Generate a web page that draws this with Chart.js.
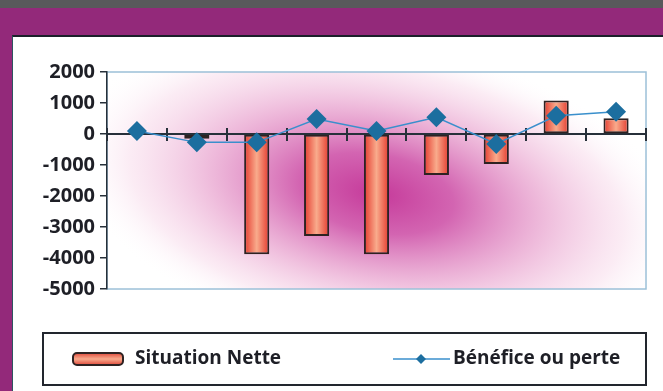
<!DOCTYPE html>
<html>
<head>
<meta charset="utf-8">
<script src="https://cdn.jsdelivr.net/npm/chart.js@4"></script>
<style>
  html, body { margin:0; padding:0; }
  body { width:663px; height:391px; background:#93297a; position:relative; overflow:hidden; }
  #topband { position:absolute; left:0; top:0; width:663px; height:8px; background:#58595b; }
  #panel { position:absolute; left:12px; top:35px; width:660px; height:400px; background:#fff;
           border-top:2px solid #1b1f2a; border-left:1px solid #2d5560; box-sizing:border-box; }
  #wrap { position:absolute; left:0; top:0; width:663px; height:391px; }
</style>
</head>
<body>
<div id="topband"></div>
<div id="panel"></div>
<div id="wrap"><canvas id="myChart"></canvas></div>
<script>
// données
const categories = ['1', '2', '3', '4', '5', '6', '7', '8', '9'];
const situationNette = [null, -150, -3880, -3290, -3880, -1320, -970, 1080, 510];
const beneficeOuPerte = [100, -270, -270, 480, 100, 540, -320, 590, 720];
const yMin = -5000;
const yMax = 2000;
const yStep = 1000;

const barPct = 0.42;
const txtFont = { family: 'Open Sans', size: 19, weight: 'bold' };
const tickFont = { family: 'Open Sans', size: 20, weight: 'bold' };
const axisColor = '#27303a';

// fond dégradé rose de la zone de tracé
const plotBack = {
    id: 'plotBack',
    beforeDraw(chart) {
        const { ctx, chartArea: a } = chart;
        ctx.save();
        ctx.fillStyle = '#fff';
        ctx.fillRect(a.left, a.top, a.width, a.height);
        ctx.beginPath();
        ctx.rect(a.left, a.top, a.width, a.height);
        ctx.clip();
        ctx.translate(a.left + a.width * 0.5, a.top + a.height * 0.56);
        ctx.rotate(0.18);
        ctx.scale(1, 0.5);
        const r = a.width * 0.58;
        const g = ctx.createRadialGradient(0, 0, 0, 0, 0, r);
        g.addColorStop(0, 'rgba(192,40,145,0.92)');
        g.addColorStop(0.25, 'rgba(200,62,158,0.8)');
        g.addColorStop(0.55, 'rgba(226,135,192,0.55)');
        g.addColorStop(0.8, 'rgba(244,200,224,0.35)');
        g.addColorStop(1, 'rgba(255,255,255,0)');
        ctx.fillStyle = g;
        ctx.fillRect(-r * 2, -r * 3, r * 4, r * 6);
        ctx.restore();
        ctx.save();
        ctx.strokeStyle = '#9cc0d8';
        ctx.lineWidth = 1.5;
        ctx.strokeRect(a.left, a.top, a.width, a.height);
        ctx.restore();
    }
};

// légende encadrée sous le graphique
const boxLegend = {
    id: 'boxLegend',
    afterDraw(chart) {
        const { ctx, chartArea: a } = chart;
        const bar = chart.data.datasets[0];
        const line = chart.data.datasets[1];
        const top = a.bottom + 44, h = 52, left = 43, right = a.right;
        const cy = top + h / 2;
        ctx.save();
        ctx.fillStyle = '#fff';
        ctx.fillRect(left, top, right - left, h);
        ctx.strokeStyle = '#22262e';
        ctx.lineWidth = 2;
        ctx.strokeRect(left, top, right - left, h);

        // pastille barre
        const g = ctx.createLinearGradient(0, cy - 6, 0, cy + 6);
        g.addColorStop(0, '#e04a3c');
        g.addColorStop(0.5, '#f8aa8c');
        g.addColorStop(1, '#e04a3c');
        ctx.fillStyle = g;
        ctx.strokeStyle = '#2e2222';
        ctx.lineWidth = 2;
        ctx.beginPath();
        ctx.roundRect(73, cy - 6, 50, 12, 4);
        ctx.fill();
        ctx.stroke();

        ctx.font = `${txtFont.weight} ${txtFont.size}px "${txtFont.family}"`;
        ctx.textBaseline = 'middle';
        ctx.fillStyle = '#1e1f26';
        ctx.fillText(bar.label, 135, cy);

        // pastille ligne
        ctx.strokeStyle = line.borderColor;
        ctx.lineWidth = 1.5;
        ctx.beginPath();
        ctx.moveTo(393, cy);
        ctx.lineTo(450, cy);
        ctx.stroke();
        ctx.fillStyle = line.pointBackgroundColor;
        ctx.beginPath();
        ctx.moveTo(421, cy - 5);
        ctx.lineTo(426, cy);
        ctx.lineTo(421, cy + 5);
        ctx.lineTo(416, cy);
        ctx.closePath();
        ctx.fill();

        ctx.fillStyle = '#1e1f26';
        ctx.fillText(line.label, 453, cy);
        ctx.restore();
    }
};

const ctxChart = document.getElementById('myChart');
const chart = new Chart(ctxChart, {
    type: 'bar',
    data: {
        labels: categories,
        datasets: [{
            type: 'bar',
            label: 'Situation Nette',
            data: situationNette,
            order: 1,
            barPercentage: barPct,
            categoryPercentage: 1,
            borderColor: '#2e2222',
            borderWidth: 2,
            borderSkipped: false,
            backgroundColor(c) {
                const ch = c.chart, xs = ch.scales.x;
                if (!ch.chartArea || !xs || c.type !== 'data') return '#ee7a62';
                const mid = xs.getPixelForValue(c.dataIndex);
                const half = xs.width / categories.length * barPct / 2;
                const g = ch.ctx.createLinearGradient(mid - half, 0, mid + half, 0);
                g.addColorStop(0, '#e43a2e');
                g.addColorStop(0.5, '#f9ab8c');
                g.addColorStop(1, '#e43a2e');
                return g;
            }
        }, {
            type: 'line',
            label: 'Bénéfice ou perte',
            data: beneficeOuPerte,
            order: 0,
            borderColor: '#3a8fcc',
            borderWidth: 1.5,
            tension: 0,
            pointStyle: 'rectRot',
            pointRadius: 10,
            pointBackgroundColor: '#1c6e9f',
            pointBorderColor: '#1c6e9f',
            pointBorderWidth: 0
        }]
    },
    options: {
        responsive: true,
        maintainAspectRatio: false,
        animation: false,
        layout: { padding: { left: 12, top: 72, right: 17, bottom: 102 } },
        scales: {
            x: {
                type: 'category',
                axis: 'x',
                position: { y: 0 },
                offset: true,
                grid: { offset: true, drawOnChartArea: false, tickLength: 6, color: axisColor, lineWidth: 2 },
                border: { color: axisColor, width: 2 },
                ticks: { display: false }
            },
            xUp: {
                type: 'category',
                axis: 'x',
                position: { y: 0 },
                offset: true,
                grid: { offset: true, drawOnChartArea: false, tickLength: -6, color: axisColor, lineWidth: 2 },
                border: { display: false },
                ticks: { display: false }
            },
            y: {
                min: yMin,
                max: yMax,
                ticks: {
                    stepSize: yStep,
                    font: tickFont,
                    color: '#1e1f26',
                    padding: 5,
                    callback: (v) => String(v)
                },
                grid: { drawOnChartArea: false, tickLength: 7, color: axisColor, lineWidth: 1.5 },
                border: { color: axisColor, width: 1.5 },
                afterFit(s) { s.width = 95; }
            }
        },
        plugins: {
            legend: { display: false },
            tooltip: { enabled: false }
        }
    },
    plugins: [plotBack, boxLegend]
});
</script>
</body>
</html>
